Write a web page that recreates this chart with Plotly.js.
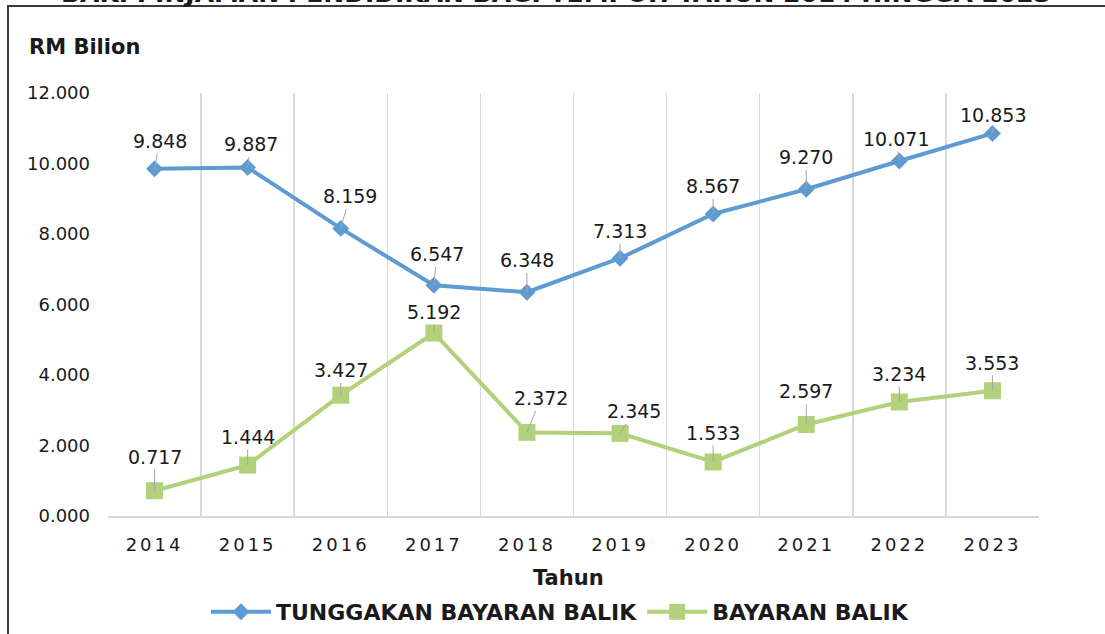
<!DOCTYPE html>
<html>
<head>
<meta charset="utf-8">
<script src="https://cdn.plot.ly/plotly-3.0.1.min.js"></script>
<style>
  html, body { margin: 0; padding: 0; background: #fff; }
  #chart { width: 1105px; height: 634px; }
  .xtick text { letter-spacing: 3px; }
</style>
</head>
<body>
<div id="chart"></div>
<script>
// ---- Data ----
const years = ['2014','2015','2016','2017','2018','2019','2020','2021','2022','2023'];
const tunggakan = [9.848, 9.887, 8.159, 6.547, 6.348, 7.313, 8.567, 9.270, 10.071, 10.853];
const bayaran = [0.717, 1.444, 3.427, 5.192, 2.372, 2.345, 1.533, 2.597, 3.234, 3.553];
const seriesNames = ['TUNGGAKAN BAYARAN BALIK', 'BAYARAN BALIK'];
const yTicks = [0, 2, 4, 6, 8, 10, 12];

// ---- Label placement (pixel offsets of label centre from point) ----
const offTung = [[5,-28],[3,-23],[9,-32],[3,-31],[0,-32],[0,-27],[0,-28],[0,-32],[-3,-22],[1,-18]];
const offBay  = [[0,-34],[0,-28],[0,-25],[0,-21],[14,-34],[14,-22],[0,-29],[0,-33],[0,-28],[0,-28]];

const blue = '#5F9BD3';
const green = '#B1D27A';
const textFont = {family: 'DejaVu Sans, Verdana, sans-serif', size: 19, color: '#1a1a1a'};
const tickFont = {family: 'DejaVu Sans, Verdana, sans-serif', size: 18, color: '#1a1a1a'};
const boldFont = {family: 'DejaVu Sans, Verdana, sans-serif', size: 21, color: '#1a1a1a', weight: 'bold'};

const traces = [
  {
    x: years, y: tunggakan, name: seriesNames[0], type: 'scatter', mode: 'lines+markers',
    line: {color: blue, width: 4},
    marker: {symbol: 'diamond', size: 13, color: blue},
    hoverinfo: 'x+y'
  },
  {
    x: years, y: bayaran, name: seriesNames[1], type: 'scatter', mode: 'lines+markers',
    line: {color: green, width: 4},
    marker: {symbol: 'square', size: 17, color: green},
    hoverinfo: 'x+y'
  }
];

function labelAnns(vals, offs) {
  return vals.map((v, i) => ({
    x: i, y: v, xref: 'x', yref: 'y',
    text: v.toFixed(3),
    showarrow: true, arrowhead: 0, arrowwidth: 1, arrowcolor: '#a6a6a6',
    ax: offs[i][0], ay: offs[i][1],
    font: textFont
  }));
}

const L = 108, R = 66, T = 93, B = 118, W = 1105, H = 634;
const pw = W - L - R, ph = H - T - B;
const px = X => (X - L) / pw;
const py = Y => (H - B - Y) / ph;

const annotations = [
  ...labelAnns(tunggakan, offTung),
  ...labelAnns(bayaran, offBay),
  {
    xref: 'paper', yref: 'paper', x: px(27), y: py(47), xanchor: 'left', yanchor: 'middle',
    text: 'RM Bilion', showarrow: false, font: boldFont
  },
  {
    xref: 'paper', yref: 'paper', x: px(568), y: py(578), xanchor: 'center', yanchor: 'middle',
    text: 'Tahun', showarrow: false, font: boldFont
  },
  {
    xref: 'paper', yref: 'paper', x: px(556), y: py(10), xanchor: 'center', yanchor: 'bottom',
    text: 'BAKI PINJAMAN PENDIDIKAN BAGI TEMPOH TAHUN 2014 HINGGA 2023', showarrow: false,
    font: {family: 'DejaVu Sans, Verdana, sans-serif', size: 25, color: '#1a1a1a', weight: 'bold'}
  }
];

const layout = {
  width: W, height: H,
  margin: {l: L, r: R, t: T, b: B},
  paper_bgcolor: '#ffffff', plot_bgcolor: '#ffffff',
  showlegend: true,
  legend: {
    orientation: 'h', xref: 'container', yref: 'container',
    x: 560 / W, xanchor: 'center', y: 1 - 612 / H, yanchor: 'middle',
    font: {family: 'DejaVu Sans, Verdana, sans-serif', size: 22, color: '#1a1a1a', weight: 'bold'},
    itemwidth: 60
  },
  xaxis: {
    type: 'category', tickson: 'boundaries', range: [-0.5, 9.5], autorange: false,
    categoryorder: 'array', categoryarray: years,
    showgrid: true, gridcolor: '#d9d9d9', gridwidth: 1.5,
    showline: true, linecolor: '#d9d9d9', linewidth: 1.5,
    ticks: '', ticklabelstandoff: 12, tickangle: 0, automargin: false,
    tickfont: tickFont,
    fixedrange: true
  },
  yaxis: {
    range: [0, 12], autorange: false, tickvals: yTicks, tickformat: '.3f',
    showgrid: false, zeroline: false, showline: false,
    ticks: '', ticklabelstandoff: 17, automargin: false,
    tickfont: tickFont,
    fixedrange: true
  },
  shapes: [
    {type: 'rect', xref: 'paper', yref: 'paper',
     x0: px(8), x1: px(1120), y0: py(650), y1: py(6),
     line: {color: '#3a3a3a', width: 2}, fillcolor: 'rgba(0,0,0,0)', layer: 'below'}
  ],
  annotations: annotations
};

Plotly.newPlot('chart', traces, layout, {displayModeBar: false, staticPlot: true});
</script>
</body>
</html>
